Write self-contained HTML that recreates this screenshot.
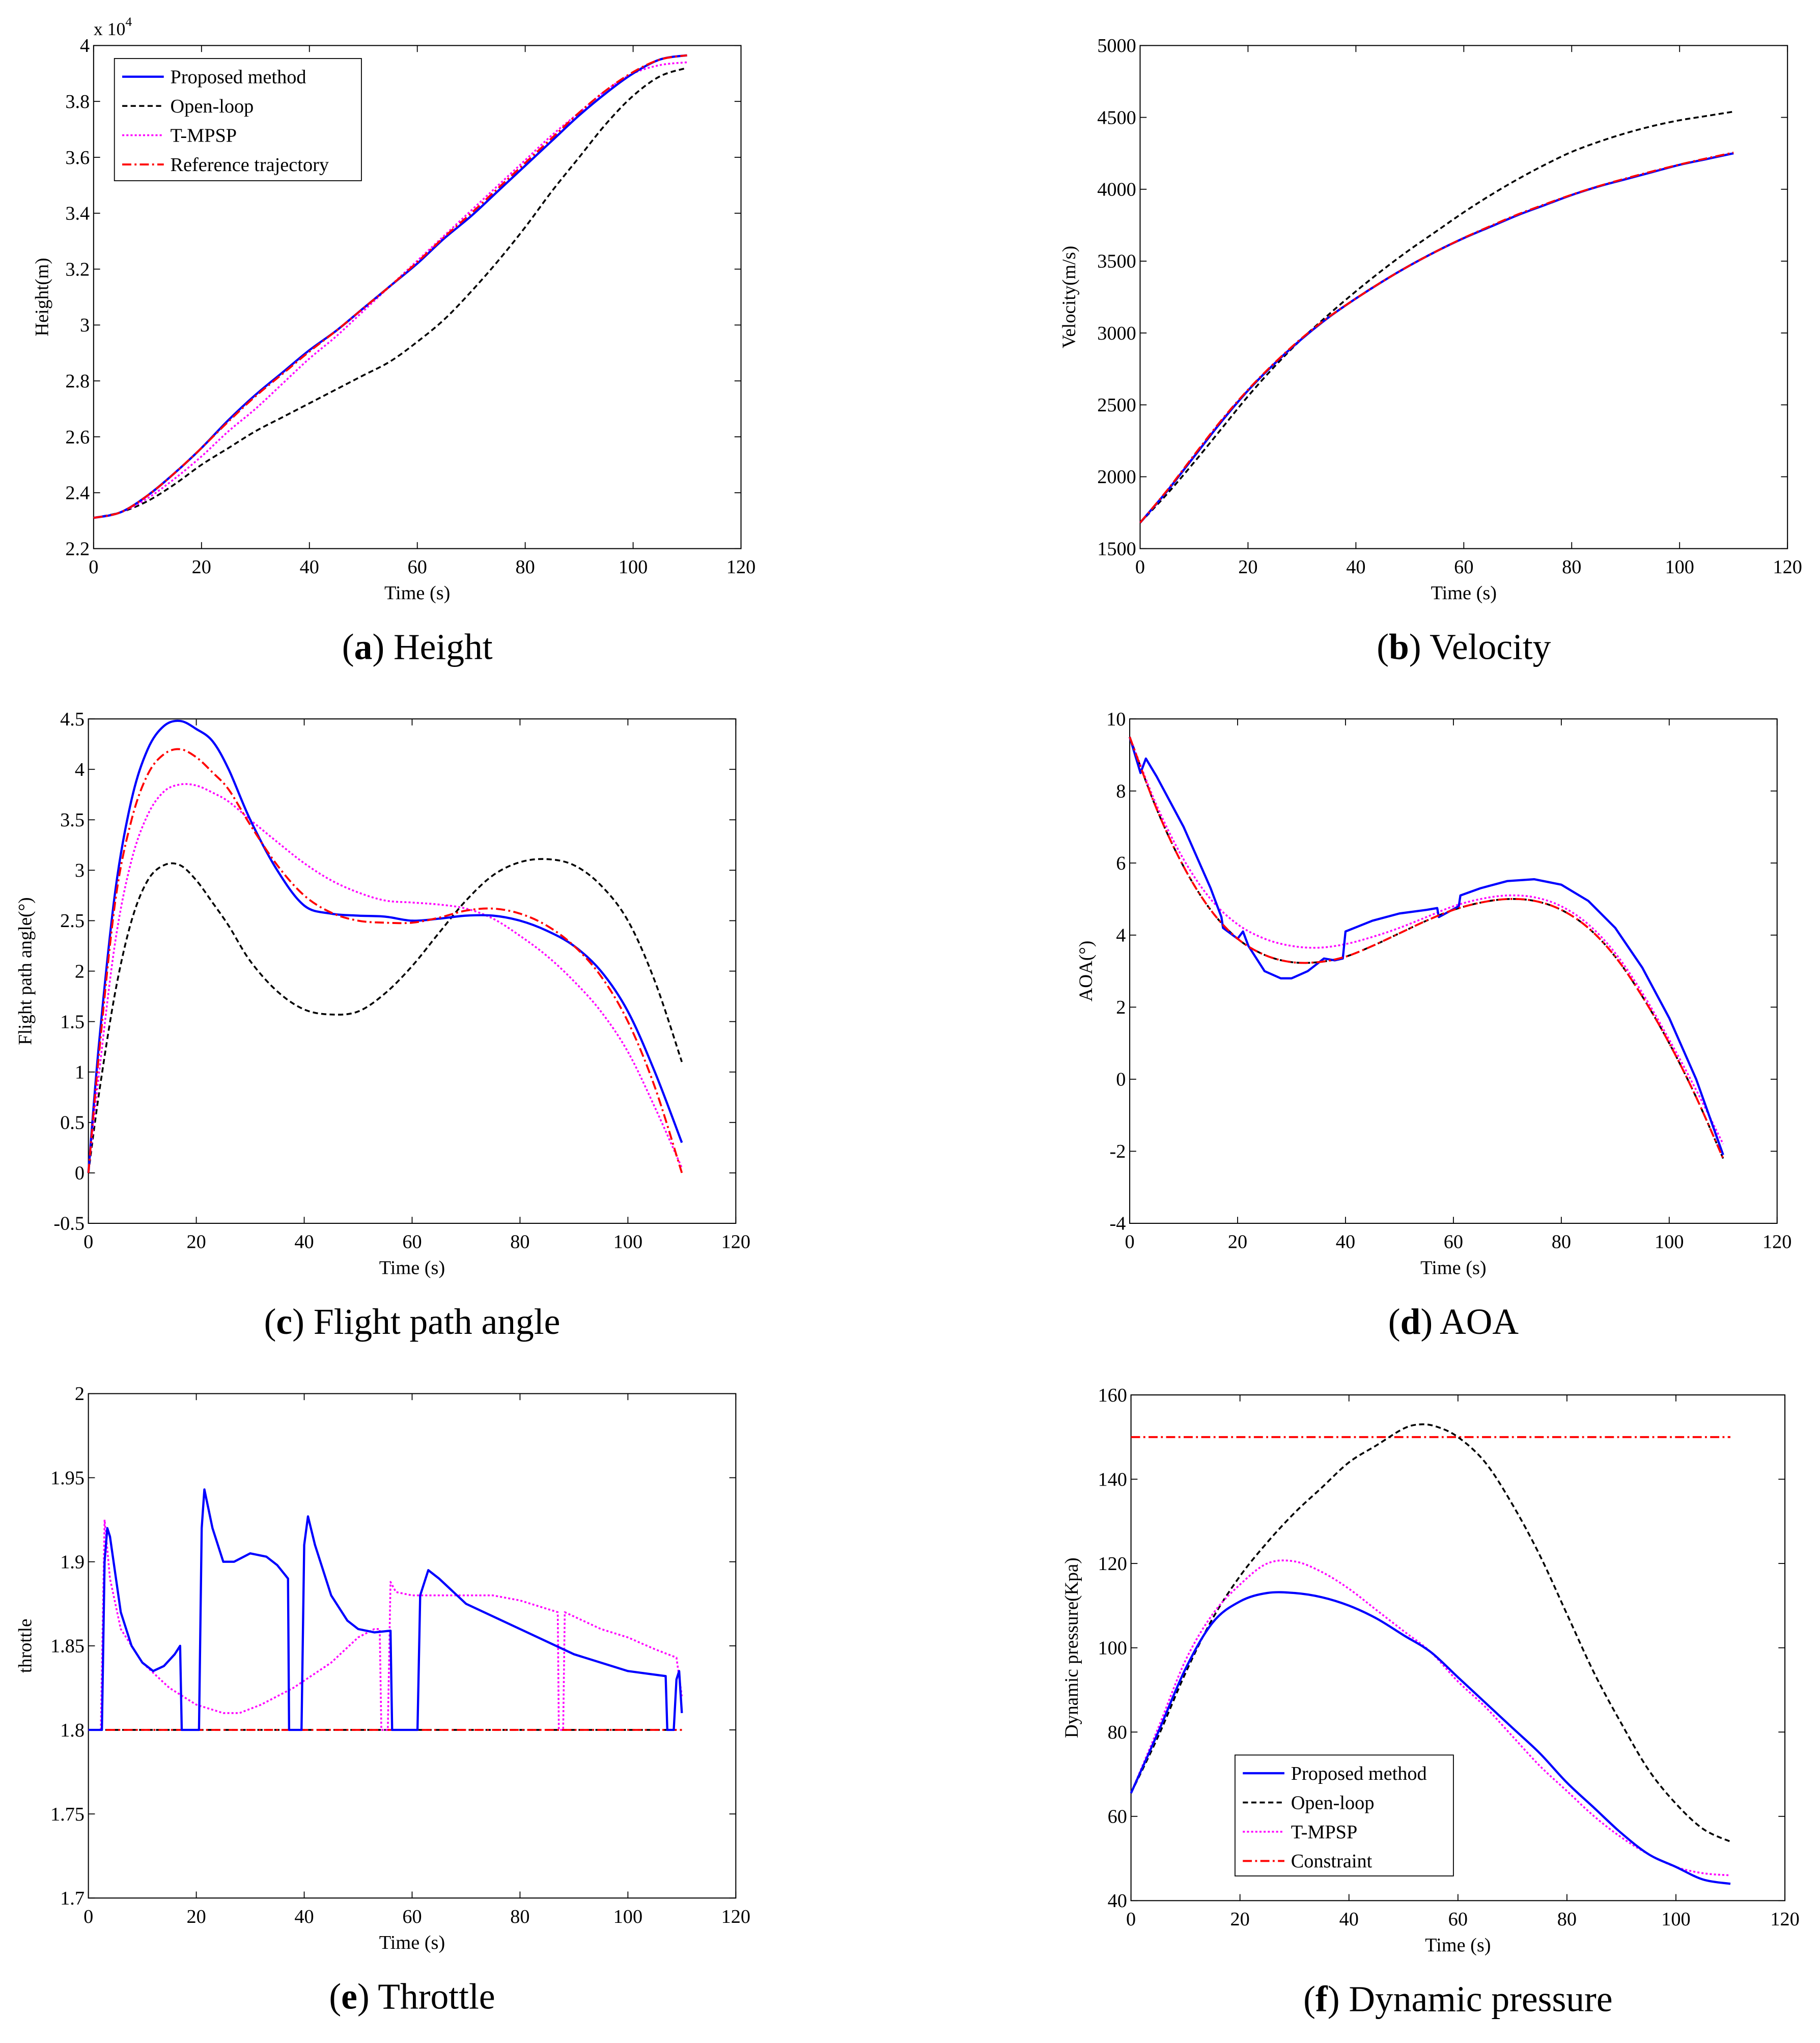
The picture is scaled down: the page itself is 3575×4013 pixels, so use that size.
<!DOCTYPE html>
<html><head><meta charset="utf-8"><style>
html,body{margin:0;padding:0;background:#fff}
svg{display:block}
text{font-family:"Liberation Serif",serif;fill:#000}
</style></head><body>
<svg id="root" width="3575" height="4013" viewBox="0 0 1400 1571.5" xmlns="http://www.w3.org/2000/svg"></svg>
<script>
// ---- data (a) Height x10^4 ----
const aPropT=[0,5,10,15,20,25,30,35,40,45,50,55,60,65,70,75,80,85,90,95,100,105,110];
const aProp=[2.31,2.33,2.39,2.47,2.56,2.66,2.75,2.83,2.91,2.98,3.06,3.14,3.22,3.31,3.39,3.48,3.57,3.66,3.75,3.83,3.90,3.95,3.965];
const aRef=[2.31,2.33,2.39,2.47,2.56,2.655,2.745,2.825,2.905,2.98,3.06,3.14,3.225,3.315,3.40,3.49,3.58,3.67,3.76,3.84,3.905,3.95,3.965];
const aTmpsp=[2.31,2.33,2.38,2.45,2.53,2.62,2.70,2.79,2.88,2.96,3.05,3.14,3.23,3.32,3.41,3.50,3.59,3.68,3.76,3.84,3.90,3.93,3.94];
const aOpen=[2.31,2.33,2.37,2.43,2.50,2.56,2.62,2.67,2.72,2.77,2.82,2.87,2.94,3.02,3.12,3.23,3.35,3.48,3.60,3.72,3.82,3.89,3.92];
// ---- (b) Velocity ----
const bT=[0,5,10,15,20,25,30,35,40,45,50,55,60,65,70,75,80,85,90,95,100,105,110];
const bProp=[1680,1900,2140,2380,2600,2790,2960,3110,3240,3360,3470,3570,3660,3740,3820,3890,3960,4020,4070,4120,4170,4210,4250];
const bRef=[1680,1905,2150,2390,2605,2795,2965,3112,3240,3360,3470,3570,3662,3745,3825,3895,3962,4022,4075,4125,4172,4215,4255];
const bTmpsp=[1680,1902,2145,2385,2602,2792,2962,3111,3240,3360,3470,3570,3661,3742,3822,3892,3961,4021,4072,4122,4171,4212,4252];
const bOpen=[1680,1880,2100,2330,2560,2770,2960,3130,3290,3440,3580,3710,3840,3960,4070,4170,4260,4330,4390,4440,4480,4510,4540];
// ---- (c) Flight path angle ----
const cT=[0,2,5,8,11,14,17,20,23,26,30,35,40,45,50,55,60,65,70,75,80,85,90,95,100,105,110];
const cProp=[0,1.3,2.8,3.7,4.2,4.43,4.48,4.4,4.28,4.0,3.5,3.0,2.65,2.57,2.55,2.54,2.5,2.52,2.55,2.55,2.5,2.4,2.25,2.0,1.6,1.0,0.3];
const cRef=[0,1.2,2.7,3.5,3.95,4.15,4.2,4.12,3.97,3.8,3.45,3.05,2.75,2.58,2.5,2.48,2.48,2.53,2.6,2.62,2.57,2.45,2.25,1.95,1.5,0.85,0];
const cTmpsp=[0,1.0,2.3,3.1,3.55,3.78,3.85,3.84,3.77,3.68,3.5,3.28,3.07,2.9,2.78,2.7,2.68,2.66,2.62,2.52,2.35,2.15,1.9,1.6,1.2,0.65,0.05];
const cOpen=[0,0.8,1.8,2.5,2.9,3.05,3.05,2.9,2.68,2.45,2.1,1.8,1.62,1.57,1.6,1.78,2.05,2.38,2.7,2.95,3.08,3.11,3.05,2.85,2.5,1.9,1.1];
// ---- (d) AOA ----
const dRefT=[0,5,10,15,20,25,30,35,40,45,50,55,60,65,70,75,80,85,90,95,100,105,110];
const dRef=[9.5,7.5,5.9,4.7,3.9,3.45,3.25,3.25,3.4,3.7,4.05,4.4,4.7,4.9,5.0,4.95,4.7,4.2,3.4,2.3,1.0,-0.5,-2.2];
const dTmpsp=[9.5,7.6,6.1,5.0,4.3,3.9,3.7,3.65,3.75,3.95,4.2,4.5,4.8,5.0,5.1,5.05,4.8,4.3,3.5,2.4,1.1,-0.3,-1.8];
const dPropT=[0,2,3,5,10,15,17,17.3,20,21,22,25,28,30,33,36,38,39.5,40,45,50,55,57,57.3,61,61.3,65,70,75,80,85,90,95,100,105,110];
const dProp=[9.5,8.5,8.9,8.4,7.0,5.3,4.5,4.2,3.9,4.1,3.7,3.0,2.8,2.8,3.0,3.35,3.3,3.35,4.1,4.4,4.6,4.7,4.75,4.5,4.8,5.1,5.3,5.5,5.55,5.4,4.95,4.2,3.1,1.7,0.0,-2.1];
// ---- (e) Throttle ----
const eBaseT=[0,110];
const eBase=[1.8,1.8];
const ePropT=[0,2.5,3,3.5,4,6,8,10,12,14,16,17,17.3,20.5,21,21.5,23,25,27,30,33,35,37,37.2,39.5,40,40.7,42,45,48,50,53,56,56.3,61,61.5,63,65,70,80,90,100,107,107.3,108.5,109,109.5,110];
const eProp=[1.8,1.8,1.9,1.92,1.915,1.87,1.85,1.84,1.835,1.838,1.845,1.85,1.8,1.8,1.92,1.943,1.92,1.9,1.9,1.905,1.903,1.898,1.89,1.8,1.8,1.91,1.927,1.91,1.88,1.865,1.86,1.858,1.859,1.8,1.8,1.88,1.895,1.89,1.875,1.86,1.845,1.835,1.832,1.8,1.8,1.83,1.835,1.81];
const eTmpspT=[0,2.3,3,4,6,10,15,20,25,28,32,38,45,50,53,54,54.3,55.5,56,57,60,70,75,80,85,87,87.2,88,88.3,95,100,105,109,110];
const eTmpsp=[1.8,1.8,1.925,1.89,1.86,1.84,1.825,1.815,1.81,1.81,1.815,1.825,1.84,1.855,1.86,1.86,1.8,1.8,1.888,1.882,1.88,1.88,1.88,1.877,1.872,1.87,1.8,1.8,1.87,1.86,1.855,1.848,1.843,1.82];
// ---- (f) Dynamic pressure ----
const fT=[0,5,10,15,20,25,30,35,40,45,50,55,60,65,70,75,80,85,90,95,100,105,110];
const fProp=[65.5,80,95,106,111,113,113,112,110,107,103,99,93,87,81,75,68,62,56,51,48,45,44];
const fTmpsp=[65.5,81,97,108,115,120,120.5,118,114,109,104,99,92,86,79,72,66,60,55,51,48,46.5,46];
const fOpenT=[0,5,10,15,20,25,30,35,40,45,50,53,56,60,65,70,75,80,85,90,95,100,105,110];
const fOpen=[65.5,79,94,107,117,125,132,138,144,148,152,153,152.5,150,144,134,122,108,94,82,71,63,57,54];
const fConT=[0,110];
const fCon=[150,150];

const NS='http://www.w3.org/2000/svg';
const root=document.getElementById('root');
function mk(tag,attrs,parent){const e=document.createElementNS(NS,tag);for(const k in attrs)e.setAttribute(k,attrs[k]);(parent||root).appendChild(e);return e;}
const STY={prop:{stroke:'#0000ff',dash:'',w:1.7},open:{stroke:'#000',dash:'4,2.5',w:1.4},tmpsp:{stroke:'#ff00ff',dash:'1.6,1.6',w:1.4},ref:{stroke:'#ff0000',dash:'7,2.5,1.5,2.5',w:1.5}};

function pathD(px,py,smooth){
  if(!smooth) return px.map((x,i)=>(i?'L':'M')+x.toFixed(2)+','+py[i].toFixed(2)).join('');
  let d='M'+px[0].toFixed(2)+','+py[0].toFixed(2);
  const n=px.length;
  for(let i=0;i<n-1;i++){
    const x0=px[Math.max(0,i-1)],y0=py[Math.max(0,i-1)],x1=px[i],y1=py[i],x2=px[i+1],y2=py[i+1],x3=px[Math.min(n-1,i+2)],y3=py[Math.min(n-1,i+2)];
    const c1x=x1+(x2-x0)/6,c1y=y1+(y2-y0)/6,c2x=x2-(x3-x1)/6,c2y=y2-(y3-y1)/6;
    d+=`C${c1x.toFixed(2)},${c1y.toFixed(2)} ${c2x.toFixed(2)},${c2y.toFixed(2)} ${x2.toFixed(2)},${y2.toFixed(2)}`;
  }
  return d;
}

function panel(o){
  const g=mk('g',{});
  
  
  const X=v=>o.x0+(v-o.xmin)/(o.xmax-o.xmin)*(o.x1-o.x0);
  const Y=v=>o.y1-(v-o.ymin)/(o.ymax-o.ymin)*(o.y1-o.y0);
  const fr=mk('rect',{x:o.x0,y:o.y0,width:o.x1-o.x0,height:o.y1-o.y0,fill:'#fff',stroke:'#000','stroke-width':0.8},g);
  
  
  for(let v=o.xmin;v<=o.xmax+1e-9;v+=o.xstep){
    const x=X(v);
    mk('line',{x1:x,y1:o.y1,x2:x,y2:o.y1-5,stroke:'#000','stroke-width':0.7},g);
    mk('line',{x1:x,y1:o.y0,x2:x,y2:o.y0+5,stroke:'#000','stroke-width':0.7},g);
    const t=mk('text',{x:x,y:o.y1+19,'font-size':15,'text-anchor':'middle'},g);t.textContent=String(Math.round(v));
    
    
  }
  for(let i=0;i<o.yticks.length;i++){
    const v=o.yticks[i];const y=Y(v);
    mk('line',{x1:o.x0,y1:y,x2:o.x0+5,y2:y,stroke:'#000','stroke-width':0.7},g);
    mk('line',{x1:o.x1,y1:y,x2:o.x1-5,y2:y,stroke:'#000','stroke-width':0.7},g);
    const t=mk('text',{x:o.x0-3,y:y+5,'font-size':15,'text-anchor':'end'},g);t.textContent=o.ylabels[i];
    
    
  }
  const xt=mk('text',{x:(o.x0+o.x1)/2,y:o.y1+39,'font-size':15,'text-anchor':'middle'},g);xt.textContent='Time (s)';
  
  
  const yt=mk('text',{x:0,y:0,'font-size':14.5,'text-anchor':'middle',transform:`translate(${o.ytx},${(o.y0+o.y1)/2}) rotate(-90)`},g);yt.textContent=o.ytitle;
  
  
  const cap=mk('text',{x:(o.x0+o.x1)/2,y:o.y1+85,'font-size':28,'text-anchor':'middle'},g);
  cap.innerHTML=`(<tspan font-weight="bold">${o.letter}</tspan>) ${o.caption}`;
  
  
  for(const s of o.series){
    const st=STY[s.k];
    const d=pathD(s.t.map(X),s.v.map(Y),s.smooth);
    const p=mk('path',{d:d,fill:'none',stroke:st.stroke,'stroke-width':st.w,'stroke-dasharray':st.dash,'stroke-linejoin':'round'},g);
    
    
  }
  return {g,X,Y};
}
function legend(x,y,w,h,items){
  const g=mk('g',{});
  
  
  mk('rect',{x:x,y:y,width:w,height:h,fill:'#fff',stroke:'#000','stroke-width':0.7},g);
  items.forEach((it,i)=>{
    const st=STY[it.k];const yy=y+14+i*22.5;
    const e=mk('g',{},g);
    
    
    mk('line',{x1:x+6,y1:yy,x2:x+38,y2:yy,stroke:st.stroke,'stroke-width':st.w,'stroke-dasharray':st.dash},e);
    const t=mk('text',{x:x+43,y:yy+5,'font-size':15},e);t.textContent=it.label;
  });
}
const r=(a,b,s)=>{const o=[];for(let v=a;v<=b+1e-9;v+=s)o.push(+v.toFixed(3));return o;};

// (a)
const ayt=r(2.2,4,0.2);
panel({name:'height-chart',letter:'a',caption:'Height',x0:72,x1:570,y0:35,y1:422,xmin:0,xmax:120,xstep:20,ymin:2.2,ymax:4,yticks:ayt,ylabels:ayt.map(v=>String(v)),ytitle:'Height(m)',ytx:37,
 series:[{k:'open',t:aPropT,v:aOpen,name:'open-loop-line',smooth:1},{k:'tmpsp',t:aPropT,v:aTmpsp,name:'tmpsp-line',smooth:1},{k:'prop',t:aPropT,v:aProp,name:'proposed-line',smooth:1},{k:'ref',t:aPropT,v:aRef,name:'reference-line',smooth:1}]});
const ex=mk('text',{x:72,y:27,'font-size':14});ex.innerHTML='x 10<tspan font-size="10" dy="-7">4</tspan>';


legend(88,45,190,94,[{k:'prop',label:'Proposed method'},{k:'open',label:'Open-loop'},{k:'tmpsp',label:'T-MPSP'},{k:'ref',label:'Reference trajectory'}]);
// (b)
const byt=r(1500,5000,500);
panel({name:'velocity-chart',letter:'b',caption:'Velocity',x0:877,x1:1375,y0:35,y1:422,xmin:0,xmax:120,xstep:20,ymin:1500,ymax:5000,yticks:byt,ylabels:byt.map(String),ytitle:'Velocity(m/s)',ytx:827,
 series:[{k:'open',t:bT,v:bOpen,name:'open-loop-line',smooth:1},{k:'tmpsp',t:bT,v:bTmpsp,name:'tmpsp-line',smooth:1},{k:'prop',t:bT,v:bProp,name:'proposed-line',smooth:1},{k:'ref',t:bT,v:bRef,name:'reference-line',smooth:1}]});
// (c)
const cyt=r(-0.5,4.5,0.5);
panel({name:'flight-path-angle-chart',letter:'c',caption:'Flight path angle',x0:68,x1:566,y0:553,y1:941,xmin:0,xmax:120,xstep:20,ymin:-0.5,ymax:4.5,yticks:cyt,ylabels:cyt.map(String),ytitle:'Flight path angle(°)',ytx:24,
 series:[{k:'open',t:cT,v:cOpen,name:'open-loop-line',smooth:1},{k:'tmpsp',t:cT,v:cTmpsp,name:'tmpsp-line',smooth:1},{k:'prop',t:cT,v:cProp,name:'proposed-line',smooth:1},{k:'ref',t:cT,v:cRef,name:'reference-line',smooth:1}]});
// (d)
const dyt=r(-4,10,2);
panel({name:'aoa-chart',letter:'d',caption:'AOA',x0:869,x1:1367,y0:553,y1:941,xmin:0,xmax:120,xstep:20,ymin:-4,ymax:10,yticks:dyt,ylabels:dyt.map(String),ytitle:'AOA(°)',ytx:840,
 series:[{k:'open',t:dRefT,v:dRef,name:'open-loop-line',smooth:1},{k:'tmpsp',t:dRefT,v:dTmpsp,name:'tmpsp-line',smooth:1},{k:'prop',t:dPropT,v:dProp,name:'proposed-line'},{k:'ref',t:dRefT,v:dRef,name:'reference-line',smooth:1}]});
// (e)
const eyt=r(1.7,2,0.05);
panel({name:'throttle-chart',letter:'e',caption:'Throttle',x0:68,x1:566,y0:1072,y1:1460,xmin:0,xmax:120,xstep:20,ymin:1.7,ymax:2,yticks:eyt,ylabels:eyt.map(String),ytitle:'throttle',ytx:24,
 series:[{k:'open',t:eBaseT,v:eBase,name:'open-loop-line'},{k:'ref',t:eBaseT,v:eBase,name:'reference-line'},{k:'tmpsp',t:eTmpspT,v:eTmpsp,name:'tmpsp-line'},{k:'prop',t:ePropT,v:eProp,name:'proposed-line'}]});
// (f)
const fyt=r(40,160,20);
panel({name:'dynamic-pressure-chart',letter:'f',caption:'Dynamic pressure',x0:870,x1:1373,y0:1073,y1:1462,xmin:0,xmax:120,xstep:20,ymin:40,ymax:160,yticks:fyt,ylabels:fyt.map(String),ytitle:'Dynamic pressure(Kpa)',ytx:829,
 series:[{k:'ref',t:fConT,v:fCon,name:'constraint-line'},{k:'open',t:fOpenT,v:fOpen,name:'open-loop-line',smooth:1},{k:'tmpsp',t:fT,v:fTmpsp,name:'tmpsp-line',smooth:1},{k:'prop',t:fT,v:fProp,name:'proposed-line',smooth:1}]});
legend(950,1350,168,93,[{k:'prop',label:'Proposed method'},{k:'open',label:'Open-loop'},{k:'tmpsp',label:'T-MPSP'},{k:'ref',label:'Constraint'}]);
</script>
</body></html>
